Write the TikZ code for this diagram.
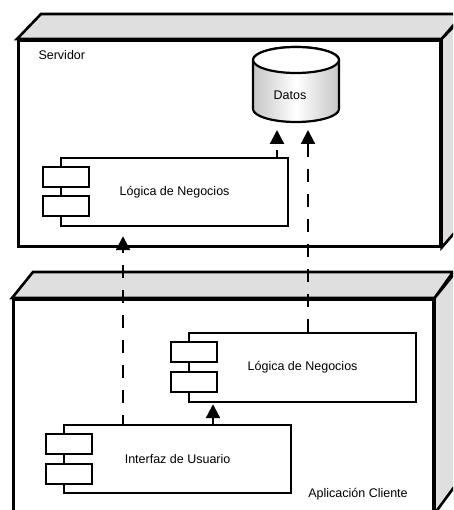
\documentclass[tikz,border=0pt]{standalone}
\usepackage{fontspec}
\setmainfont{Liberation Sans}
\usetikzlibrary{arrows.meta}
\begin{document}
\begin{tikzpicture}[x=1pt,y=-1pt,
  every node/.style={font=\fontsize{12.5}{15}\selectfont},
  outer/.style={draw=black,line width=2.6pt,fill=white,rectangle,inner sep=0pt,anchor=north west},
  face/.style={draw=black,line width=2.6pt,fill=gray!25,line join=miter},
  comp/.style={draw=black,line width=2.2pt,fill=white,rectangle,inner sep=0pt,
    minimum width=227pt,minimum height=68pt,anchor=north west},
  tab/.style={draw=black,line width=2.2pt,fill=white,rectangle,inner sep=0pt,
    minimum width=46pt,minimum height=20pt,anchor=north west},
  dep/.style={line width=2.2pt,dash pattern=on 13pt off 12pt,
    -{Triangle[length=14pt,width=14pt]}},
]
\useasboundingbox (0,0) rectangle (453,510);
\clip (0,0) rectangle (453,510);

% --- server node (3D box) ---
\node[outer,minimum width=422pt,minimum height=206pt] (srv) at (17,39) {};
\draw[face] (srv.north west) -- ++(24,-25) -- ++(422,0) -- (srv.north east) -- cycle;
\draw[face] (srv.north east) -- ++(24,-25) -- ++(0,206) -- (srv.south east) -- cycle;
\node[anchor=west] (srvlbl) at (35,55) {Servidor};

% --- client node (3D box) ---
\node[outer,minimum width=420pt,minimum height=213pt] (cli) at (12,298) {};
\draw[face] (cli.north west) -- ++(21,-26) -- ++(420,0) -- (cli.north east) -- cycle;
\draw[face] (cli.north east) -- ++(21,-26) -- ++(0,213) -- (cli.south east) -- cycle;
\node (clilbl) at (358,494) {Aplicación Cliente};

% --- database cylinder ---
\shadedraw[line width=2.2pt,left color=gray!45,right color=gray!45,middle color=white]
  (253,60) -- (253,109)
  arc[start angle=180,end angle=360,x radius=43pt,y radius=13pt]
  -- (339,60)
  arc[start angle=0,end angle=180,x radius=43pt,y radius=13pt] -- cycle;
\draw[line width=2.2pt,fill=white] (296,60) ellipse[x radius=43pt,y radius=13pt];
\node (dat) at (290,95) {Datos};
\coordinate (datb) at (296,122);

% --- components ---
\node[comp] (lnS) at (60,157) {Lógica de Negocios};
\node[tab] (lnSt1) at ([shift={(-18,9)}]lnS.north west) {};
\node[tab] (lnSt2) at ([shift={(-18,38)}]lnS.north west) {};

\node[comp,minimum height=69pt] (lnC) at (188,332) {Lógica de Negocios};
\node[tab] (lnCt1) at ([shift={(-18,9)}]lnC.north west) {};
\node[tab] (lnCt2) at ([shift={(-18,39)}]lnC.north west) {};

\node[comp] (intz) at (63,424) {Interfaz de Usuario};
\node[tab] (intzt1) at ([shift={(-18,9)}]intz.north west) {};
\node[tab] (intzt2) at ([shift={(-18,39)}]intz.north west) {};

% --- dependencies ---
\coordinate (x1) at (123,0);
\coordinate (x2) at (277,0);
\coordinate (x3) at (308,0);
\coordinate (x4) at (213,0);
\draw[dep,shorten >=9pt,dash phase=4pt] (intz.north -| x1) -- (lnS.south -| x1);
\draw[dep,shorten >=1pt] (intz.north -| x4) -- (lnC.south -| x4);
\draw[dep,shorten >=8pt,dash phase=6pt] (lnS.north -| x2) -- (datb -| x2);
\draw[dep,shorten >=8pt] (lnC.north -| x3) -- (datb -| x3);
\end{tikzpicture}
\end{document}
